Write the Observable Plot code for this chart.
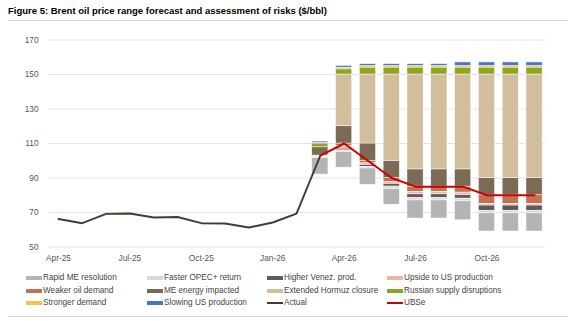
<!DOCTYPE html>
<html><head><meta charset="utf-8">
<script src="https://cdn.jsdelivr.net/npm/d3@7"></script>
<script src="https://cdn.jsdelivr.net/npm/@observablehq/plot@0.6"></script>
<style>
body{margin:0;background:#fff;font-family:"Liberation Sans",Arial,sans-serif;}
#wrap{position:relative;width:568px;height:321px;overflow:hidden;background:#fff;}
#title{position:absolute;left:8px;top:5px;font-weight:bold;font-size:9.5px;color:#000;white-space:nowrap;}
#rule1{position:absolute;left:8px;right:0;top:20px;border-top:1px solid #d6d6d6;}
#chart{position:absolute;left:0;top:0;}
#legend{position:absolute;left:0;top:0;width:568px;height:321px;pointer-events:none;}
.li{position:absolute;font-size:8.2px;color:#444;white-space:nowrap;line-height:10px;}
.sw{position:absolute;left:-17px;width:16px;}
#rule2{position:absolute;left:8px;right:0;top:316px;border-top:1px solid #d6d6d6;}
</style></head>
<body>
<div id="wrap">
<div id="title">Figure 5: Brent oil price range forecast and assessment of risks ($/bbl)</div>
<div id="rule1"></div>
<div id="chart"></div>
<div id="legend"></div>
<div id="rule2"></div>
</div>
<script>
// Months on the x axis
const months = ["Apr-25","May-25","Jun-25","Jul-25","Aug-25","Sep-25","Oct-25","Nov-25","Dec-25","Jan-26","Feb-26","Mar-26",
  "Apr-26","May-26","Jun-26","Jul-26","Aug-26","Sep-26","Oct-26","Nov-26","Dec-26"];
const xTickLabels = ["Apr-25","Jul-25","Oct-25","Jan-26","Apr-26","Jul-26","Oct-26"];
const yTicks = [50, 70, 90, 110, 130, 150, 170];

// Actual Brent (Apr-25 .. Mar-26)
const actualMonths = ["Apr-25","May-25","Jun-25","Jul-25","Aug-25","Sep-25","Oct-25","Nov-25","Dec-25","Jan-26","Feb-26","Mar-26"];
const actual = [66.2, 63.8, 69.2, 69.4, 67.1, 67.4, 63.8, 63.6, 61.3, 64.2, 69.3, 103];

// Forecast months and UBS central forecast
const forecastMonths = ["Mar-26","Apr-26","May-26","Jun-26","Jul-26","Aug-26","Sep-26","Oct-26","Nov-26","Dec-26"];
const ubse = [103, 110, 100, 90, 85, 85, 85, 80, 80, 80];

// Downside risks (stacked downward from UBSe)
const weakerDemand = [0.4, 1.5, 1.5, 2.5, 3, 3, 3.5, 5, 5, 5];
const upsideUS     = [0.5, 1.5, 1, 1, 1.5, 1.5, 1.5, 1, 1, 1];
const higherVenez  = [0, 1, 1, 1.5, 2, 2, 2, 3, 3, 3];
const fasterOPEC   = [0.6, 1, 1, 1.5, 1.5, 1.5, 1.5, 1.5, 1.5, 1.5];
const rapidME      = [9.5, 9, 9.5, 9, 10.5, 10.5, 11, 10.5, 10.5, 10.5];

// Upside risks (stacked upward from UBSe)
const meEnergy     = [4.8, 10, 10, 10, 10, 10, 10, 10, 10, 10];
const hormuz       = [0, 30, 40, 50, 55, 55, 55, 60, 60, 60];
const russian      = [2.2, 3, 4, 4, 4, 4, 4, 4, 4, 4];
const stronger     = [0.3, 1, 1, 1, 1, 1, 1, 1, 1, 1];
const slowingUS    = [0.8, 1, 1, 1, 1, 1, 2, 2, 2, 2];

const colors = {
  "Rapid ME resolution": "#b4b4b4",
  "Faster OPEC+ return": "#d9d9d9",
  "Higher Venez. prod.": "#5b5b5b",
  "Upside to US production": "#eab7a3",
  "Weaker oil demand": "#c27152",
  "ME energy impacted": "#7b6b56",
  "Extended Hormuz closure": "#d0be9d",
  "Russian supply disruptions": "#8fa521",
  "Stronger demand": "#efc54c",
  "Slowing US production": "#4a74c6",
  "Actual": "#4a3a2e",
  "UBSe": "#cc0000"
};

const downSeries = [["Weaker oil demand", weakerDemand], ["Upside to US production", upsideUS],
  ["Higher Venez. prod.", higherVenez], ["Faster OPEC+ return", fasterOPEC], ["Rapid ME resolution", rapidME]];
const upSeries = [["ME energy impacted", meEnergy], ["Extended Hormuz closure", hormuz],
  ["Russian supply disruptions", russian], ["Stronger demand", stronger], ["Slowing US production", slowingUS]];

const segs = [];
forecastMonths.forEach((m, i) => {
  const xi = months.indexOf(m);
  let top = ubse[i];
  for (const [k, arr] of downSeries) {
    const b = top - arr[i];
    if (arr[i] > 0) segs.push({x: xi, y1: b, y2: top, k});
    top = b;
  }
  let bot = ubse[i];
  for (const [k, arr] of upSeries) {
    const t = bot + arr[i];
    if (arr[i] > 0) segs.push({x: xi, y1: bot, y2: t, k});
    bot = t;
  }
});

const actualData = actualMonths.map((m, i) => ({x: months.indexOf(m), y: actual[i]}));
const ubseData = forecastMonths.map((m, i) => ({x: months.indexOf(m), y: ubse[i]}));
const half = 0.34;

const chart = Plot.plot({
  width: 568,
  height: 270,
  marginLeft: 48,
  marginRight: 23,
  marginTop: 39.5,
  marginBottom: 23.5,
  style: {fontFamily: "'Liberation Sans', Arial, sans-serif", fontSize: "8.3px", color: "#555", background: "transparent"},
  x: {type: "linear", domain: [-0.42, 20.46]},
  y: {domain: [50, 170]},
  marks: [
    Plot.ruleY(yTicks, {stroke: "#e4e4e4", strokeWidth: 1}),
    Plot.axisY(yTicks, {tickSize: 0, tickPadding: 10, label: null, fill: "#555"}),
    Plot.axisX(xTickLabels.map(l => months.indexOf(l)), {tickSize: 0, tickPadding: 8, label: null, tickFormat: i => months[i], fill: "#555"}),
    Plot.rectY(segs, {x1: d => d.x - half, x2: d => d.x + half, y1: "y1", y2: "y2",
      fill: d => colors[d.k], stroke: "#ffffff", strokeWidth: 0.6, strokeOpacity: 0.8}),
    Plot.line(actualData, {x: "x", y: "y", stroke: colors["Actual"], strokeWidth: 1.9}),
    Plot.line(ubseData, {x: "x", y: "y", stroke: colors["UBSe"], strokeWidth: 2})
  ]
});
document.getElementById("chart").appendChild(chart);

// Legend
const legendItems = ["Rapid ME resolution","Faster OPEC+ return","Higher Venez. prod.","Upside to US production",
  "Weaker oil demand","ME energy impacted","Extended Hormuz closure","Russian supply disruptions",
  "Stronger demand","Slowing US production","Actual","UBSe"];
const colX = [43, 164, 284, 404];
const rowY = [272.5, 285.5, 298];
const leg = document.getElementById("legend");
legendItems.forEach((name, i) => {
  const div = document.createElement("div");
  div.className = "li";
  div.style.left = colX[i % 4] + "px";
  div.style.top = rowY[Math.floor(i / 4)] + "px";
  const sw = document.createElement("span");
  sw.className = "sw";
  const isLine = name === "Actual" || name === "UBSe";
  sw.style.height = isLine ? "2px" : "4px";
  sw.style.top = isLine ? "4px" : "3px";
  sw.style.background = colors[name];
  div.appendChild(sw);
  div.appendChild(document.createTextNode(name));
  leg.appendChild(div);
});
</script>
</body></html>
